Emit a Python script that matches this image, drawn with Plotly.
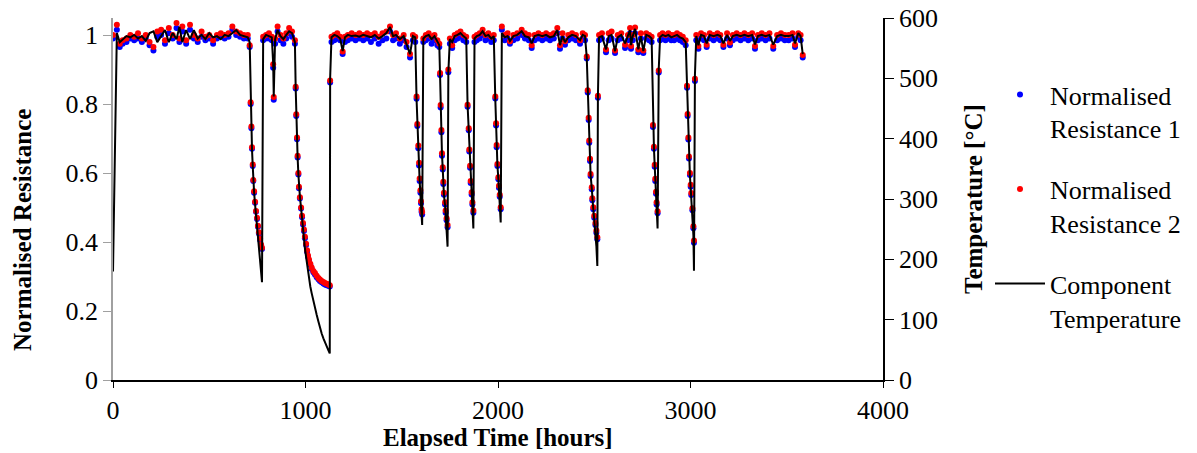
import plotly.graph_objects as go

# ---------------- data ----------------
hours = [
    0, 20, 35, 50, 70, 90, 110, 130, 150, 170, 190, 210, 230, 250, 270, 290, 310, 330, 345, 360, 380, 400, 420, 440, 460, 480, 500, 520, 540, 560, 580, 600, 620, 640, 660, 680, 700, 710,
    715, 719, 722, 726, 729, 733, 738, 743, 748, 753, 758, 764, 769, 774,
    780, 795, 810, 825, 832, 835, 842, 855, 870, 885, 900, 915, 930, 945,
    949, 952, 956, 959, 963, 966, 971, 977, 982, 987, 992, 997, 1003, 1008, 1013, 1018, 1025, 1032, 1041, 1049, 1058, 1067, 1075, 1084, 1093, 1101, 1110, 1119, 1126,
    1128, 1135, 1150, 1165, 1180, 1193, 1205, 1220, 1240, 1260, 1280, 1300, 1320, 1340, 1360, 1380, 1400, 1420, 1439, 1455, 1470, 1490, 1510, 1525, 1543, 1558, 1570,
    1577, 1581, 1586, 1590, 1593, 1597, 1600, 1603, 1606,
    1612, 1625, 1640, 1655, 1670, 1685, 1695,
    1699, 1702, 1706, 1709, 1713, 1716, 1719, 1725, 1728, 1733, 1738, 1742,
    1750, 1762, 1775, 1790, 1805, 1820, 1835,
    1842, 1848, 1851, 1855, 1858, 1863, 1867, 1872,
    1878, 1890, 1905, 1920, 1935, 1950, 1965, 1978,
    1986, 1990, 1993, 1997, 2002, 2005, 2009, 2014,
    2020, 2035, 2050, 2062, 2080, 2100, 2123, 2140, 2160, 2175, 2190, 2210, 2230, 2250, 2270, 2290, 2308, 2322, 2335, 2348, 2365, 2385, 2405, 2426, 2440, 2452,
    2461, 2466, 2471, 2474, 2478, 2481, 2487, 2490, 2495, 2500, 2506, 2511, 2516, 2519,
    2525, 2540, 2561, 2575, 2590, 2608, 2622, 2640, 2660, 2675, 2686, 2691, 2700, 2712, 2729, 2742, 2755, 2770, 2785, 2798,
    2805, 2810, 2814, 2817, 2821, 2824, 2829, 2835,
    2842, 2855, 2870, 2885, 2900, 2915, 2930, 2945, 2960, 2975,
    2982, 2985, 2989, 2992, 2997, 3001, 3004, 3010, 3015, 3018, 3023,
    3030, 3041, 3055, 3070, 3084, 3100, 3120, 3140, 3155, 3171, 3190, 3205, 3220, 3240, 3260, 3280, 3300, 3320, 3335, 3350, 3370, 3390, 3410, 3430, 3450, 3470, 3490, 3510, 3530, 3543, 3560, 3572, 3583,
]

resistance_1 = [
    0.99, 1.015, 0.965, 0.975, 0.98, 0.99, 0.985, 0.99, 0.98, 0.99, 0.97, 0.955, 0.995, 1.00, 0.975, 1.005, 0.99, 1.02, 0.98, 1.01, 0.975, 1.015, 0.99, 0.98, 0.995, 0.985, 0.99, 0.975, 0.99, 0.995, 0.99, 0.995, 1.015, 1.00, 0.995, 0.99, 0.99, 0.965,
    0.80, 0.73, 0.67, 0.62, 0.577, 0.543, 0.514, 0.488, 0.467, 0.444, 0.425, 0.406, 0.39, 0.38,
    0.985, 0.99, 0.99, 0.985, 0.905, 0.812, 0.975, 1.01, 0.985, 0.975, 0.99, 1.005, 0.995, 0.975,
    0.845, 0.765, 0.698, 0.645, 0.596, 0.556, 0.526, 0.497, 0.472, 0.451, 0.432, 0.411, 0.391, 0.372, 0.357, 0.345, 0.333, 0.322, 0.312, 0.306, 0.298, 0.292, 0.287, 0.283, 0.28, 0.277, 0.275, 0.273, 0.271,
    0.862, 0.98, 0.985, 0.99, 0.985, 0.945, 0.98, 0.985, 0.99, 0.985, 0.99, 0.985, 0.99, 0.98, 0.99, 0.975, 0.985, 0.99, 1.01, 0.985, 0.99, 0.975, 0.985, 0.965, 0.935, 0.985, 0.98,
    0.815, 0.736, 0.672, 0.622, 0.577, 0.543, 0.512, 0.488, 0.48,
    0.98, 0.985, 0.99, 0.975, 0.985, 0.97, 0.965,
    0.884, 0.79, 0.718, 0.65, 0.61, 0.568, 0.537, 0.509, 0.485, 0.463, 0.443, 0.892,
    0.975, 0.962, 0.985, 0.99, 0.995, 0.985, 0.98,
    0.792, 0.724, 0.662, 0.615, 0.571, 0.538, 0.509, 0.485,
    0.98, 0.985, 0.99, 1.0, 0.985, 0.99, 0.98, 0.985,
    0.816, 0.738, 0.675, 0.62, 0.582, 0.557, 0.531, 0.495,
    1.015, 0.985, 0.99, 0.975, 0.985, 0.99, 1.0, 0.99, 0.985, 0.962, 0.985, 0.99, 0.985, 0.99, 0.985, 0.99, 1.005, 0.96, 0.99, 0.972, 0.985, 0.99, 0.985, 0.975, 0.99, 0.985,
    0.932, 0.833, 0.754, 0.688, 0.635, 0.591, 0.553, 0.521, 0.495, 0.47, 0.449, 0.427, 0.408, 0.818,
    0.985, 0.99, 0.95, 0.985, 0.99, 0.948, 0.985, 0.99, 0.962, 0.985, 1.005, 0.96, 0.985, 1.005, 0.95, 0.99, 0.948, 0.99, 0.985, 0.98,
    0.733, 0.67, 0.618, 0.577, 0.54, 0.509, 0.483, 0.891,
    0.985, 0.99, 0.985, 0.99, 0.985, 0.985, 0.99, 0.985, 0.98, 0.97,
    0.847, 0.765, 0.697, 0.642, 0.594, 0.56, 0.536, 0.492, 0.44, 0.398, 0.867,
    0.985, 0.96, 0.99, 0.985, 0.965, 0.99, 0.985, 0.99, 0.985, 0.965, 0.99, 0.97, 0.985, 0.99, 0.985, 0.99, 0.985, 0.99, 0.96, 0.985, 0.99, 0.985, 0.99, 0.96, 0.985, 0.99, 0.985, 0.985, 0.99, 0.965, 0.995, 0.985, 0.935,
]

resistance_2 = [
    1.00, 1.03, 0.975, 0.985, 0.99, 1.00, 0.995, 1.005, 0.99, 1.00, 0.98, 0.965, 1.01, 1.015, 0.985, 1.02, 1.00, 1.035, 0.99, 1.025, 0.985, 1.03, 1.00, 0.99, 1.01, 0.995, 1.00, 0.985, 1.00, 1.005, 1.00, 1.005, 1.025, 1.01, 1.005, 1.00, 1.00, 0.97,
    0.805, 0.735, 0.675, 0.625, 0.58, 0.547, 0.517, 0.49, 0.47, 0.447, 0.428, 0.41, 0.393, 0.383,
    0.995, 1.0, 1.005, 0.995, 0.915, 0.82, 0.99, 1.025, 1.0, 0.99, 1.005, 1.02, 1.01, 0.985,
    0.85, 0.77, 0.703, 0.65, 0.6, 0.56, 0.53, 0.5, 0.476, 0.455, 0.436, 0.415, 0.395, 0.376, 0.361, 0.349, 0.337, 0.326, 0.316, 0.31, 0.302, 0.296, 0.291, 0.287, 0.284, 0.281, 0.279, 0.277, 0.275,
    0.868, 0.995, 1.0, 1.005, 0.995, 0.952, 0.995, 1.0, 1.005, 1.0, 1.005, 1.0, 1.005, 1.0, 1.005, 0.995, 1.005, 1.01, 1.025, 1.0, 1.005, 0.99, 1.0, 0.98, 0.945, 1.0, 0.995,
    0.822, 0.742, 0.68, 0.63, 0.584, 0.55, 0.518, 0.495, 0.487,
    0.99, 1.0, 1.005, 0.995, 1.0, 0.985, 0.975,
    0.89, 0.797, 0.725, 0.657, 0.617, 0.575, 0.543, 0.515, 0.491, 0.469, 0.449, 0.9,
    0.99, 0.97, 1.0, 1.005, 1.01, 1.0, 0.995,
    0.798, 0.73, 0.668, 0.621, 0.577, 0.544, 0.515, 0.491,
    0.995, 1.0, 1.005, 1.015, 1.0, 1.005, 0.995, 1.0,
    0.822, 0.744, 0.681, 0.626, 0.588, 0.563, 0.537, 0.501,
    1.025, 1.0, 1.005, 0.982, 1.0, 1.005, 1.015, 1.005, 1.0, 0.97, 1.0, 1.005, 1.0, 1.005, 1.0, 1.005, 1.02, 0.97, 1.005, 0.982, 1.0, 1.005, 1.0, 0.985, 1.005, 1.0,
    0.938, 0.84, 0.76, 0.694, 0.641, 0.597, 0.559, 0.527, 0.501, 0.476, 0.455, 0.433, 0.414, 0.824,
    1.0, 1.005, 0.958, 1.005, 1.01, 0.955, 1.0, 1.005, 0.972, 1.0, 1.02, 0.968, 1.0, 1.022, 0.958, 1.005, 0.955, 1.005, 1.0, 0.995,
    0.739, 0.676, 0.624, 0.583, 0.546, 0.515, 0.489, 0.897,
    1.0, 1.005, 1.0, 1.005, 1.0, 1.0, 1.005, 1.0, 0.995, 0.985,
    0.853, 0.771, 0.703, 0.648, 0.6, 0.566, 0.542, 0.498, 0.446, 0.404, 0.873,
    1.0, 0.968, 1.005, 1.0, 0.972, 1.005, 1.0, 1.005, 1.0, 0.972, 1.005, 0.978, 1.0, 1.005, 1.0, 1.005, 1.0, 1.005, 0.968, 1.0, 1.005, 1.0, 1.005, 0.968, 1.0, 1.005, 1.0, 1.0, 1.005, 0.972, 1.005, 1.0, 0.942,
]

temperature_c = [
    180, 575, 560, 565, 570, 568, 572, 566, 570, 562, 575, 578, 560, 570, 580, 560, 575, 565, 585, 560, 580, 565, 580, 566, 572, 565, 575, 568, 570, 565, 572, 570, 575, 580, 572, 570, 568, 560,
    460, 418, 383, 354, 330, 311, 291, 272, 252, 233, 214, 194, 175, 162,
    565, 572, 570, 568, 525, 470, 565, 580, 570, 565, 572, 578, 575, 560,
    484, 438, 400, 369, 341, 318, 304, 285, 265, 246, 232, 218, 204, 191, 180, 169, 155, 144, 130, 119, 108, 97, 86, 77, 69, 62, 55, 49, 44,
    500, 568, 572, 570, 566, 545, 568, 572, 570, 571, 569, 572, 570, 568, 572, 566, 570, 575, 585, 570, 572, 565, 570, 555, 540, 570, 568,
    465, 420, 385, 355, 330, 310, 292, 275, 257,
    566, 570, 572, 565, 570, 562, 555,
    505, 455, 412, 374, 350, 326, 307, 290, 275, 258, 221, 510,
    565, 560, 570, 572, 575, 570, 566,
    455, 415, 380, 353, 328, 309, 292, 251,
    566, 570, 572, 578, 570, 572, 566, 570,
    465, 422, 386, 355, 333, 318, 300, 261,
    575, 568, 570, 562, 570, 572, 578, 570, 568, 558, 570, 572, 570, 572, 568, 570, 580, 555, 570, 560, 568, 572, 570, 563, 572, 570,
    535, 478, 433, 395, 365, 340, 318, 300, 283, 265, 245, 222, 189, 470,
    568, 570, 548, 570, 572, 545, 568, 572, 558, 570, 580, 555, 570, 582, 548, 570, 545, 572, 570, 566,
    420, 385, 355, 332, 310, 290, 251, 515,
    568, 572, 570, 572, 568, 570, 572, 568, 566, 560,
    482, 438, 398, 365, 338, 318, 300, 275, 240, 181, 505,
    570, 555, 572, 570, 558, 572, 570, 572, 570, 558, 572, 562, 570, 572, 570, 572, 570, 572, 556, 570, 572, 570, 572, 556, 570, 572, 570, 570, 572, 558, 575, 570, 540,
]

assert len(hours) == len(resistance_1) == len(resistance_2) == len(temperature_c), (
    len(hours), len(resistance_1), len(resistance_2), len(temperature_c))

x_ticks = [0, 1000, 2000, 3000, 4000]
y_ticks = [0, 0.2, 0.4, 0.6, 0.8, 1]
y_tick_text = ["0", "0.2", "0.4", "0.6", "0.8", "1"]
y2_ticks = [0, 100, 200, 300, 400, 500, 600]

series_names = ["Normalised<br>Resistance 1", "Normalised<br>Resistance 2", "Component<br>Temperature"]

# ---------------- figure ----------------
FONT = "Liberation Serif"
fig = go.Figure()
fig.add_trace(go.Scatter(x=hours, y=resistance_1, mode="markers", name=series_names[0],
                         marker=dict(color="#0000FF", size=6), legendgroup="a", yaxis="y"))
fig.add_trace(go.Scatter(x=hours, y=resistance_2, mode="markers", name=series_names[1],
                         marker=dict(color="#FF0000", size=6), legendgroup="b", yaxis="y"))
fig.add_trace(go.Scatter(x=hours, y=temperature_c, mode="lines", name=series_names[2],
                         line=dict(color="black", width=2), legendgroup="c", yaxis="y2"))

L, R, T, B = 113, 314, 18, 73
W, H = 1197, 453
pw, ph = W - L - R, H - T - B


def px(xp):
    return (xp - L) / pw


def py(yp):
    return (H - B - yp) / ph


fig.update_layout(
    width=W, height=H,
    margin=dict(l=L, r=R, t=T, b=B, autoexpand=False),
    paper_bgcolor="white", plot_bgcolor="white",
    font=dict(family=FONT, size=26, color="black"),
    showlegend=True,
    legend=dict(x=px(990), y=py(71), xanchor="left", yanchor="top",
                font=dict(family=FONT, size=26, color="black"),
                itemwidth=50,
                traceorder="grouped", tracegroupgap=24, valign="top",
                bgcolor="rgba(0,0,0,0)"),
    xaxis=dict(range=[0, 4000], tickvals=x_ticks, ticks="outside", ticklen=6,
               tickcolor="black", showline=True, linecolor="black", linewidth=1.5,
               showgrid=False, zeroline=False, automargin=False,
               tickfont=dict(family=FONT, size=26)),
    yaxis=dict(range=[0, 1.0493], tickvals=y_ticks, ticktext=y_tick_text, ticks="outside",
               ticklen=8, tickcolor="#A0A0A0", showline=True, linecolor="#A0A0A0",
               linewidth=1.5, showgrid=False, zeroline=False, automargin=False,
               tickfont=dict(family=FONT, size=26)),
    yaxis2=dict(range=[0, 600], tickvals=y2_ticks, overlaying="y", side="right",
                ticks="outside", ticklen=9, tickcolor="black", showline=True,
                linecolor="black", linewidth=1.5, showgrid=False, zeroline=False,
                automargin=False, tickfont=dict(family=FONT, size=26)),
    annotations=[
        dict(text="<b>Normalised Resistance</b>", xref="paper", yref="paper",
             x=px(22), y=py(230), textangle=-90, showarrow=False,
             xanchor="center", yanchor="middle", font=dict(family=FONT, size=25)),
        dict(text="<b>Elapsed Time [hours]</b>", xref="paper", yref="paper",
             x=px(498), y=py(437), showarrow=False,
             xanchor="center", yanchor="middle", font=dict(family=FONT, size=25)),
        dict(text="<b>Temperature [°C]</b>", xref="paper", yref="paper",
             x=px(973), y=py(199), textangle=-90, showarrow=False,
             xanchor="center", yanchor="middle", font=dict(family=FONT, size=25)),
    ],
)

fig.write_html("out.html", config={"displayModeBar": False},
               post_script="document.body.style.margin='0';document.body.style.overflow='hidden';")
